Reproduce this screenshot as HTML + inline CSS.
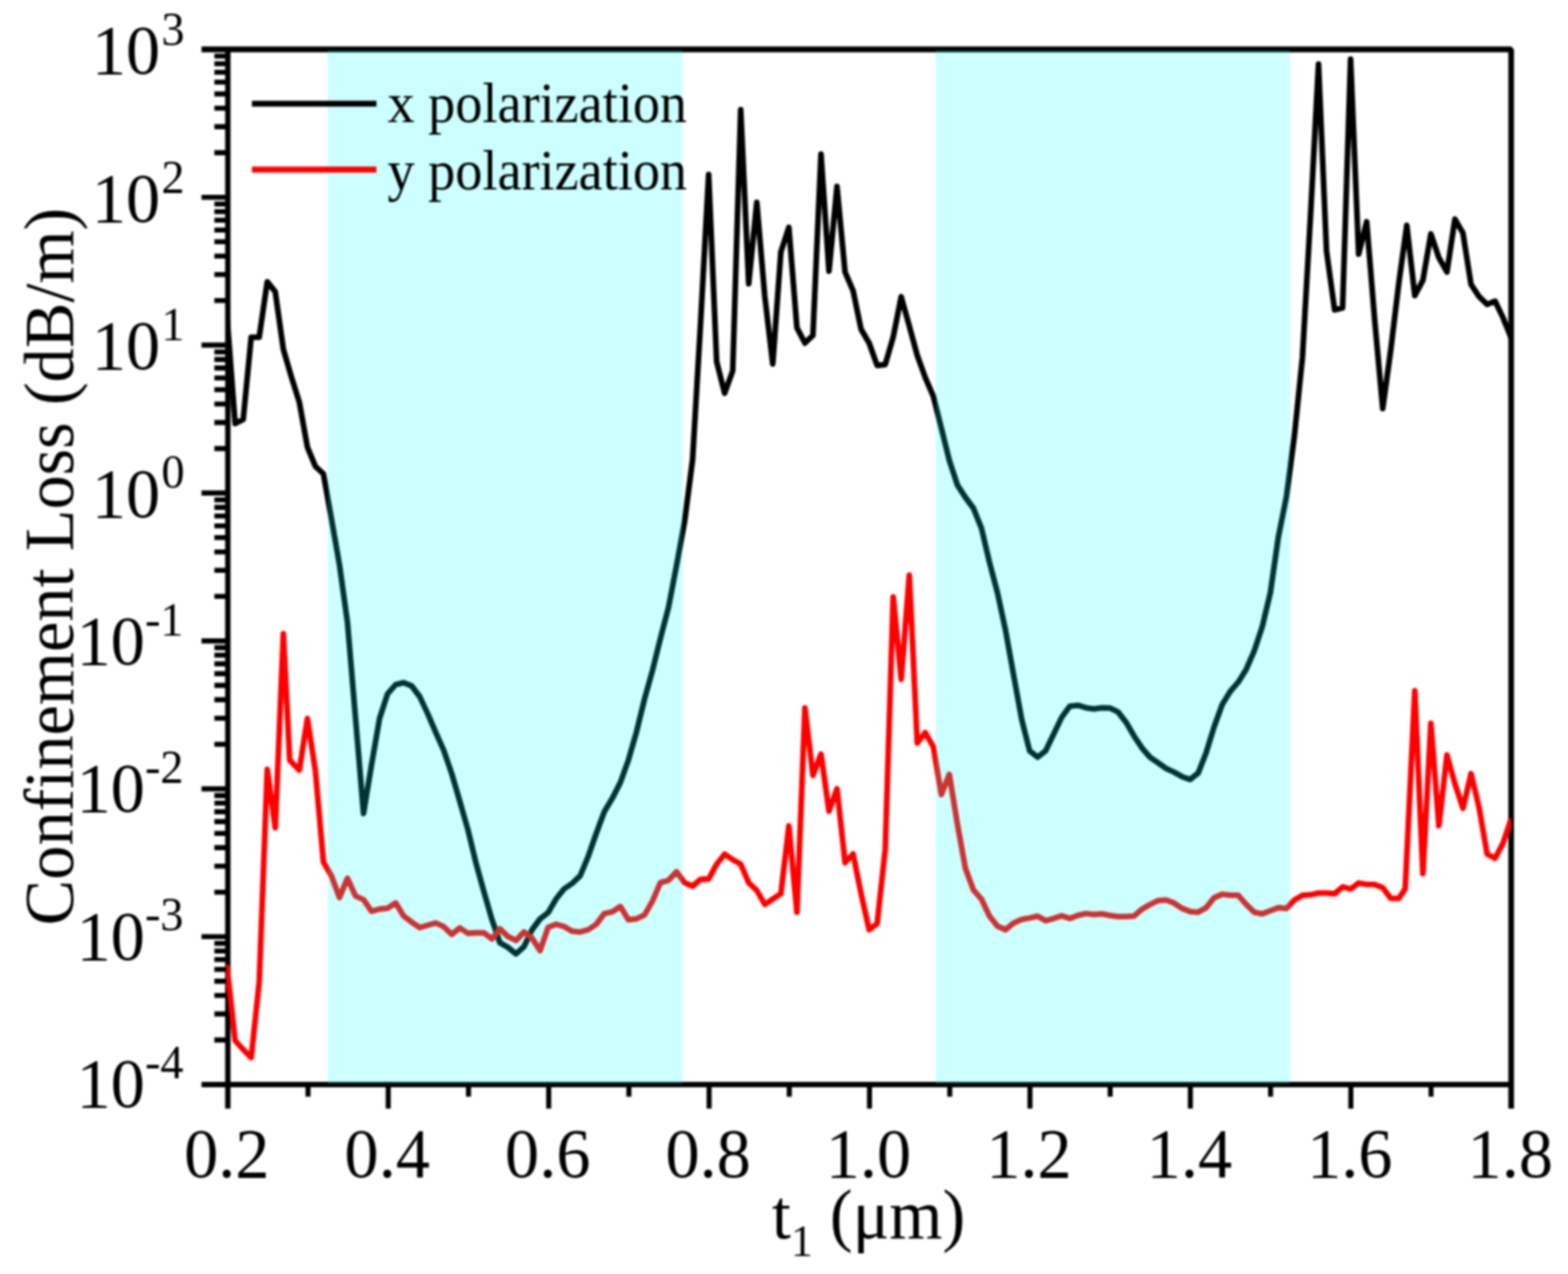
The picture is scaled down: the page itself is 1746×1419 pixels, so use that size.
<!DOCTYPE html>
<html lang="en">
<head>
<meta charset="utf-8">
<title>Confinement Loss vs t1</title>
<style>
html,body{margin:0;padding:0;background:#fff;}
body{width:1746px;height:1419px;overflow:hidden;}
svg{display:block;filter:blur(0.85px);}
text{font-family:"Liberation Serif", "DejaVu Serif", serif;fill:#000;}
</style>
</head>
<body>
<svg width="1746" height="1419" viewBox="0 0 1746 1419">
<rect x="0" y="0" width="1746" height="1419" fill="#ffffff"/>
<g stroke="#000" fill="none" stroke-linecap="butt">
<path stroke-width="6.3" stroke-linejoin="bevel" d="M224.39999999999998,55.0 H1682.7 V1234.8"/>
<path stroke-width="6.0" d="M253.7,55.0 V1234.8 M224.39999999999998,1208.0 H1682.8"/>
<path stroke-width="5.6" d="M343.0,1208.0 v13.4 M432.3,1208.0 v26.8 M521.7,1208.0 v13.4 M611.0,1208.0 v26.8 M700.3,1208.0 v13.4 M789.6,1208.0 v26.8 M878.9,1208.0 v13.4 M968.2,1208.0 v26.8 M1057.6,1208.0 v13.4 M1146.9,1208.0 v26.8 M1236.2,1208.0 v13.4 M1325.5,1208.0 v26.8 M1414.8,1208.0 v13.4 M1504.2,1208.0 v26.8 M1593.5,1208.0 v13.4"/>
<path stroke-width="5.6" d="M238.7,1158.4 H253.7 M238.7,1129.4 H253.7 M238.7,1108.8 H253.7 M238.7,1092.9 H253.7 M238.7,1079.8 H253.7 M238.7,1068.8 H253.7 M238.7,1059.2 H253.7 M238.7,1050.8 H253.7 M224.39999999999998,1043.3 H253.7 M238.7,993.7 H253.7 M238.7,964.7 H253.7 M238.7,944.1 H253.7 M238.7,928.2 H253.7 M238.7,915.1 H253.7 M238.7,904.1 H253.7 M238.7,894.5 H253.7 M238.7,886.1 H253.7 M224.39999999999998,878.6 H253.7 M238.7,829.0 H253.7 M238.7,800.0 H253.7 M238.7,779.4 H253.7 M238.7,763.4 H253.7 M238.7,750.4 H253.7 M238.7,739.4 H253.7 M238.7,729.8 H253.7 M238.7,721.4 H253.7 M224.39999999999998,713.9 H253.7 M238.7,664.3 H253.7 M238.7,635.3 H253.7 M238.7,614.7 H253.7 M238.7,598.7 H253.7 M238.7,585.7 H253.7 M238.7,574.7 H253.7 M238.7,565.1 H253.7 M238.7,556.7 H253.7 M224.39999999999998,549.1 H253.7 M238.7,499.6 H253.7 M238.7,470.6 H253.7 M238.7,450.0 H253.7 M238.7,434.0 H253.7 M238.7,421.0 H253.7 M238.7,409.9 H253.7 M238.7,400.4 H253.7 M238.7,392.0 H253.7 M224.39999999999998,384.4 H253.7 M238.7,334.8 H253.7 M238.7,305.8 H253.7 M238.7,285.3 H253.7 M238.7,269.3 H253.7 M238.7,256.3 H253.7 M238.7,245.2 H253.7 M238.7,235.7 H253.7 M238.7,227.3 H253.7 M224.39999999999998,219.7 H253.7 M238.7,170.1 H253.7 M238.7,141.1 H253.7 M238.7,120.5 H253.7 M238.7,104.6 H253.7 M238.7,91.5 H253.7 M238.7,80.5 H253.7 M238.7,71.0 H253.7 M238.7,62.5 H253.7"/>
</g>
<clipPath id="pc"><rect x="251.9" y="55.0" width="1430.9" height="1156.0"/></clipPath>
<g clip-path="url(#pc)">
<polyline points="251.3,353.0 252.9,354.0 261.8,471.7 270.8,467.2 279.7,375.6 288.6,375.6 297.6,313.8 306.5,325.0 315.5,389.0 324.4,419.6 333.3,447.9 342.3,498.0 351.2,519.5 360.1,527.7 369.1,578.0 378.0,629.0 386.9,693.0 395.9,800.0 404.8,906.0 413.7,851.8 422.7,800.0 431.6,772.8 440.6,762.5 449.5,760.4 458.4,764.0 467.4,776.0 476.3,795.0 485.2,815.7 494.2,836.0 503.1,862.0 512.0,892.5 521.0,924.0 529.9,960.8 538.9,993.4 547.8,1024.3 556.7,1050.1 565.7,1055.3 574.6,1062.5 583.5,1054.4 592.5,1035.5 601.4,1023.5 610.3,1016.6 619.3,1001.1 628.2,990.0 637.1,984.0 646.1,975.4 655.0,953.9 664.0,928.1 672.9,904.1 681.8,889.2 690.8,871.5 699.7,846.7 708.6,815.8 717.6,778.9 726.5,747.0 735.4,711.0 744.4,676.5 753.3,630.0 762.3,581.0 771.2,512.0 780.1,360.0 789.1,194.3 798.0,402.7 806.9,438.0 815.9,413.0 824.8,122.2 833.7,316.0 842.7,225.3 851.6,330.0 860.5,405.3 869.5,280.8 878.4,253.3 887.4,365.0 896.3,382.1 905.2,373.5 914.2,171.6 923.1,302.0 932.0,207.7 941.0,303.1 949.9,323.7 958.8,366.7 967.8,382.1 976.7,407.0 985.7,406.2 994.6,375.3 1003.5,330.5 1012.5,363.2 1021.4,395.9 1030.3,420.5 1039.3,441.5 1048.2,476.7 1057.1,512.8 1066.1,540.3 1075.0,554.0 1083.9,566.0 1092.9,588.4 1101.8,626.2 1110.8,660.6 1119.7,702.0 1128.6,751.5 1137.6,801.0 1146.5,836.2 1155.4,843.4 1164.4,836.2 1173.3,817.6 1182.2,799.0 1191.2,786.6 1200.1,785.6 1209.1,788.3 1218.0,789.7 1226.9,788.3 1235.9,788.7 1244.8,792.8 1253.7,804.2 1262.7,819.7 1271.6,833.1 1280.5,843.4 1289.5,849.6 1298.4,855.8 1307.3,860.0 1316.3,865.1 1325.2,868.2 1334.2,861.0 1343.1,838.3 1352.0,809.4 1361.0,784.6 1369.9,770.1 1378.8,759.8 1387.8,745.3 1396.7,724.7 1405.6,697.8 1414.6,660.0 1423.5,598.0 1432.5,553.0 1441.4,485.0 1450.3,398.0 1459.3,240.0 1468.2,71.5 1477.1,279.6 1486.1,345.1 1495.0,342.9 1503.9,66.0 1512.9,283.0 1521.8,247.0 1530.7,356.0 1539.7,455.0 1548.6,390.0 1557.6,315.3 1566.5,251.0 1575.4,329.2 1584.4,312.3 1593.3,260.5 1602.2,287.0 1611.2,303.0 1620.1,244.0 1629.0,259.5 1638.0,316.8 1646.9,330.2 1655.9,339.1 1664.8,335.4 1673.7,354.0 1682.7,376.4" fill="none" stroke="#000000" stroke-width="6.3" stroke-linejoin="round" stroke-linecap="butt"/>
<polyline points="251.3,1076.5 252.9,1077.5 261.8,1159.0 270.8,1169.0 279.7,1178.0 288.6,1094.0 297.6,857.0 306.5,922.0 315.5,705.8 322.6,846.7 333.3,857.8 342.3,800.3 351.2,858.7 360.1,960.1 369.1,975.6 378.0,999.7 386.9,978.2 395.9,998.0 404.8,1002.0 413.7,1015.0 422.7,1012.5 431.6,1011.7 440.6,1005.7 449.5,1020.3 458.4,1027.1 467.4,1033.2 476.3,1030.6 485.2,1028.0 494.2,1032.2 503.1,1040.8 512.0,1033.5 521.0,1039.5 529.9,1039.0 538.9,1039.0 547.8,1045.8 556.7,1034.6 565.7,1043.2 574.6,1047.5 583.5,1038.0 592.5,1045.0 601.4,1058.8 610.3,1032.9 619.3,1029.5 628.2,1032.0 637.1,1037.2 646.1,1038.1 655.0,1035.5 664.0,1029.5 672.9,1017.5 681.8,1015.7 690.8,1009.7 699.7,1024.3 708.6,1023.5 717.6,1019.2 726.5,1003.7 735.4,983.1 744.4,980.5 753.3,971.0 762.3,983.1 771.2,987.0 780.1,979.5 789.1,979.0 798.0,962.6 806.9,951.4 815.9,957.5 824.8,962.6 833.7,983.2 842.7,991.8 851.6,1007.3 860.5,1001.3 869.5,995.3 878.4,920.0 887.4,1016.0 896.3,788.5 905.2,863.5 914.2,840.0 923.1,903.5 932.0,878.5 941.0,960.8 949.9,951.0 958.8,995.3 967.8,1035.6 976.7,1028.8 985.7,946.0 994.6,664.8 1003.5,756.5 1012.5,640.7 1021.4,827.7 1030.3,816.0 1039.3,832.0 1048.2,885.0 1057.1,862.6 1066.1,918.0 1075.0,967.1 1083.9,991.2 1092.9,1001.5 1101.8,1020.4 1110.8,1031.7 1119.7,1035.5 1128.6,1028.1 1137.6,1024.2 1146.5,1022.5 1155.4,1020.4 1164.4,1025.6 1173.3,1023.0 1182.2,1020.1 1191.2,1023.0 1200.1,1019.6 1209.1,1017.5 1218.0,1018.7 1226.9,1017.8 1235.9,1019.6 1244.8,1020.8 1253.7,1020.8 1262.7,1020.4 1271.6,1012.7 1280.5,1007.5 1289.5,1003.2 1298.4,1002.4 1307.3,1005.8 1316.3,1011.8 1325.2,1015.3 1334.2,1016.1 1343.1,1011.0 1352.0,999.8 1361.0,996.0 1369.9,997.2 1378.8,997.2 1387.8,1007.5 1396.7,1016.1 1405.6,1017.8 1414.6,1014.4 1423.5,1011.0 1432.5,1011.8 1441.4,1002.4 1450.3,997.2 1459.3,996.7 1468.2,994.6 1477.1,994.6 1486.1,995.5 1495.0,987.8 1503.9,990.3 1512.9,983.5 1521.8,985.2 1530.7,985.2 1539.7,988.6 1548.6,1000.7 1557.6,1000.7 1564.7,990.0 1575.4,769.5 1584.4,973.2 1593.3,805.6 1602.2,919.7 1611.2,841.0 1620.1,873.0 1629.0,900.3 1638.0,861.7 1646.9,899.0 1655.9,951.3 1664.8,956.0 1673.7,939.0 1682.7,912.0" fill="none" stroke="#ff0000" stroke-width="6.3" stroke-linejoin="round" stroke-linecap="butt"/>
</g>
<rect x="365.0" y="56.0" width="394.9" height="1151.1" fill="#00ffff" fill-opacity="0.2"/>
<rect x="1042.0" y="56.0" width="394.3" height="1151.1" fill="#00ffff" fill-opacity="0.2"/>
<path d="M280.5,115.5 H419.2" stroke="#000" stroke-width="6.6" fill="none"/>
<path d="M280.5,188.9 H419.2" stroke="#ff0000" stroke-width="6.6" fill="none"/>
<text transform="translate(431.6,135.7) scale(0.964,1)" font-size="62.6">x polarization</text>
<text transform="translate(431.6,210.7) scale(0.964,1)" font-size="62.6">y polarization</text>
<text transform="translate(252.6,1311.2) scale(0.964,1)" font-size="79.0" text-anchor="middle">0.2</text>
<text transform="translate(431.2,1311.2) scale(0.964,1)" font-size="79.0" text-anchor="middle">0.4</text>
<text transform="translate(609.9,1311.2) scale(0.964,1)" font-size="79.0" text-anchor="middle">0.6</text>
<text transform="translate(788.5,1311.2) scale(0.964,1)" font-size="79.0" text-anchor="middle">0.8</text>
<text transform="translate(967.1,1311.2) scale(0.964,1)" font-size="79.0" text-anchor="middle">1.0</text>
<text transform="translate(1145.8,1311.2) scale(0.964,1)" font-size="79.0" text-anchor="middle">1.2</text>
<text transform="translate(1324.4,1311.2) scale(0.964,1)" font-size="79.0" text-anchor="middle">1.4</text>
<text transform="translate(1503.1,1311.2) scale(0.964,1)" font-size="79.0" text-anchor="middle">1.6</text>
<text transform="translate(1681.7,1311.2) scale(0.964,1)" font-size="79.0" text-anchor="middle">1.8</text>
<text transform="translate(161.4,1232.9) scale(0.964,1)" font-size="79.0" text-anchor="end">10<tspan x="0.0" text-anchor="start" font-size="53.5" dy="-32.2">-4</tspan></text>
<text transform="translate(161.4,1068.6) scale(0.964,1)" font-size="79.0" text-anchor="end">10<tspan x="0.0" text-anchor="start" font-size="53.5" dy="-32.2">-3</tspan></text>
<text transform="translate(161.4,904.2) scale(0.964,1)" font-size="79.0" text-anchor="end">10<tspan x="0.0" text-anchor="start" font-size="53.5" dy="-32.2">-2</tspan></text>
<text transform="translate(161.4,739.8) scale(0.964,1)" font-size="79.0" text-anchor="end">10<tspan x="0.0" text-anchor="start" font-size="53.5" dy="-32.2">-1</tspan></text>
<text transform="translate(178.3,575.5) scale(0.964,1)" font-size="79.0" text-anchor="end">10<tspan x="1.6" text-anchor="start" font-size="53.5" dy="-32.2">0</tspan></text>
<text transform="translate(178.3,411.1) scale(0.964,1)" font-size="79.0" text-anchor="end">10<tspan x="1.6" text-anchor="start" font-size="53.5" dy="-32.2">1</tspan></text>
<text transform="translate(178.3,246.8) scale(0.964,1)" font-size="79.0" text-anchor="end">10<tspan x="1.6" text-anchor="start" font-size="53.5" dy="-32.2">2</tspan></text>
<text transform="translate(178.3,82.4) scale(0.964,1)" font-size="79.0" text-anchor="end">10<tspan x="1.6" text-anchor="start" font-size="53.5" dy="-32.2">3</tspan></text>
<text transform="translate(859.5,1379) scale(0.964,1)" font-size="79.0">t<tspan font-size="50.5" dy="20">1</tspan><tspan dy="-20"> (μm)</tspan></text>
<text transform="translate(81,631) rotate(-90) scale(0.964,1)" font-size="79.0" text-anchor="middle">Confinement Loss (dB/m)</text>
</svg>
</body>
</html>
